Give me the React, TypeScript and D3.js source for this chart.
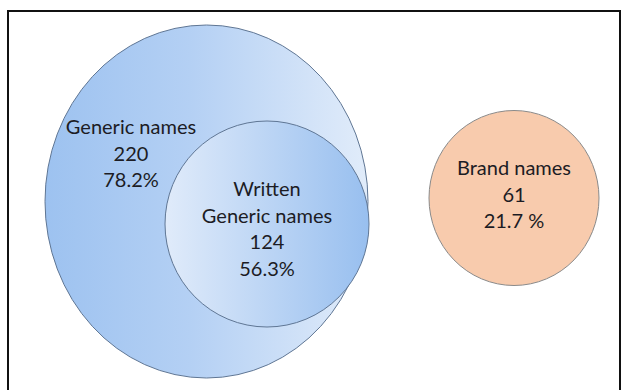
import React from "react";
import * as d3 from "d3";

// ---- data ----
const setNames: string[][] = [["Generic names"], ["Written", "Generic names"], ["Brand names"]];
const setCounts: number[] = [220, 124, 61];
const setPercents: string[] = ["78.2%", "56.3%", "21.7 %"];

// ---- layout (positions / styles) ----
const W = 627;
const H = 390;
const shapes = [
  { cx: 206.5, cy: 201.5, rx: 161.5, ry: 176.5, grad: "gBig", stroke: "#5f7694" },
  { cx: 267, cy: 224, rx: 102, ry: 103, grad: "gInner", stroke: "#5f7694" },
  { cx: 514, cy: 198, rx: 85, ry: 87.5, grad: "", fill: "#f8cbad", stroke: "#8a8a8a" },
];
const labelPos = [
  { x: 131, y: 134 },
  { x: 267, y: 196 },
  { x: 514, y: 175 },
];
const lineGap = 26.5;

export default function App() {
  const fmt = d3.format("d");
  return (
    <svg width={W} height={H} style={{ position: "absolute", left: 0, top: 0, background: "#fff" }}>
      <defs>
        <linearGradient id="gBig" x1="0" x2="1" y1="0" y2="0">
          <stop offset="0" stopColor="#9dc2f0" />
          <stop offset="0.45" stopColor="#b4d0f4" />
          <stop offset="1" stopColor="#e1ecfa" />
        </linearGradient>
        <linearGradient id="gInner" x1="0" x2="1" y1="0" y2="0">
          <stop offset="0" stopColor="#e0ebfa" />
          <stop offset="1" stopColor="#98bfef" />
        </linearGradient>
      </defs>
      <rect x={0} y={0} width={W} height={H} fill="#fff" />
      <path d={`M8,${H} L8,11 L620,11 L620,${H}`} fill="none" stroke="#111" strokeWidth={2} />
      {shapes.map((s, i) => (
        <ellipse
          key={i}
          cx={s.cx}
          cy={s.cy}
          rx={s.rx}
          ry={s.ry}
          fill={s.grad ? `url(#${s.grad})` : s.fill}
          stroke={s.stroke}
          strokeWidth={1}
        />
      ))}
      {setNames.map((names, i) => {
        const lines = [...names, fmt(setCounts[i]), setPercents[i]];
        return (
          <text
            key={i}
            textAnchor="middle"
            fontFamily="Lato, 'Open Sans', sans-serif"
            fontSize={20}
            fill="#1c1c24"
          >
            {lines.map((t, j) => (
              <tspan key={j} x={labelPos[i].x} y={labelPos[i].y + j * lineGap}>
                {t}
              </tspan>
            ))}
          </text>
        );
      })}
    </svg>
  );
}
